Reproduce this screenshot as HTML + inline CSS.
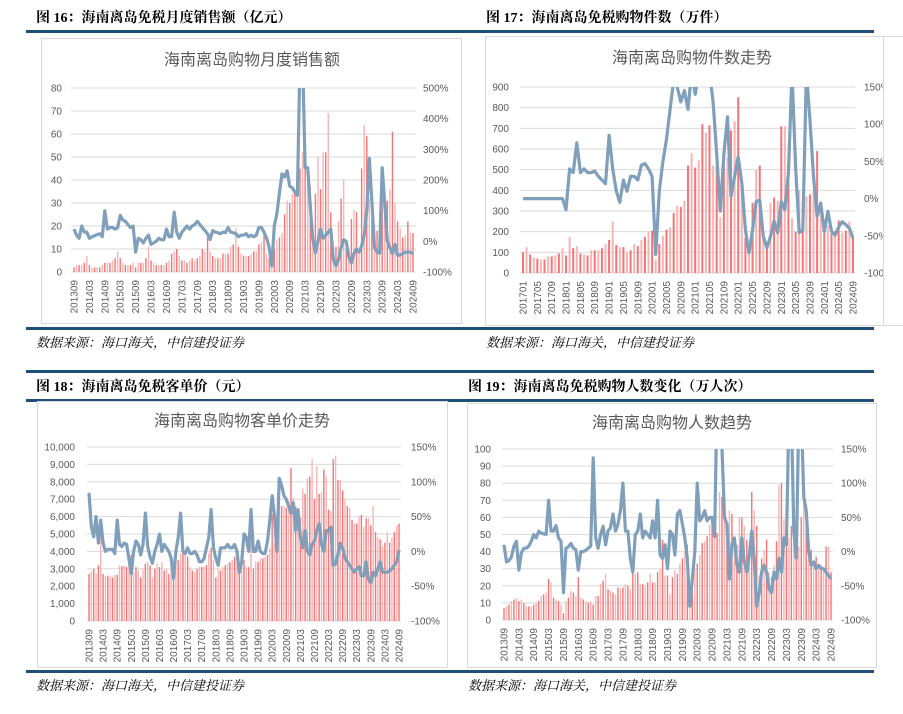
<!DOCTYPE html>
<html><head><meta charset="utf-8">
<style>
html,body{margin:0;padding:0;background:#fff;}
svg{display:block;font-family:"Liberation Sans","Noto Sans CJK SC",sans-serif;}
.ft{font-family:"Liberation Serif","Noto Serif CJK SC",serif;font-weight:bold;font-size:14px;fill:#000;}
.src{font-family:"Liberation Serif","Noto Serif CJK SC",serif;font-style:italic;font-size:13px;fill:#000;}
.ct{font-size:16px;fill:#595959;}
.tk{font-size:10px;fill:#595959;}
</style></head><body>
<svg id="root" width="903" height="714" viewBox="0 0 903 714">
<rect x="0" y="0" width="903" height="714" fill="#fff"/>
<rect x="26" y="30" width="848" height="3" fill="#1f4e79"/>
<rect x="26" y="327" width="848" height="3" fill="#1f4e79"/>
<rect x="26" y="370" width="848" height="3" fill="#1f4e79"/>
<rect x="26" y="399" width="848" height="3" fill="#1f4e79"/>
<rect x="26" y="670" width="848" height="3" fill="#1f4e79"/>
<text class="ft" x="36" y="22">图 16：海南离岛免税月度销售额（亿元）</text>
<text class="ft" x="486" y="22">图 17：海南离岛免税购物件数（万件）</text>
<text class="ft" x="36" y="391">图 18：海南离岛免税客单价（元）</text>
<text class="ft" x="468" y="391">图 19：海南离岛免税购物人数变化（万人次）</text>
<text class="src" x="36" y="347">数据来源：海口海关，中信建投证券</text>
<text class="src" x="486" y="347">数据来源：海口海关，中信建投证券</text>
<text class="src" x="36" y="690">数据来源：海口海关，中信建投证券</text>
<text class="src" x="468" y="690">数据来源：海口海关，中信建投证券</text>
<defs>
<clipPath id="cp16"><rect x="60" y="88" width="370" height="184"/></clipPath>
<clipPath id="cp17"><rect x="510" y="87" width="360" height="186"/></clipPath>
<clipPath id="cp17b"><rect x="485" y="36" width="398" height="289"/></clipPath>
<clipPath id="cp18"><rect x="78" y="447" width="330" height="174"/></clipPath>
<clipPath id="cp19"><rect x="494" y="449" width="345" height="171"/></clipPath>
</defs>
</svg>
<script>
// ---- Chart 16: monthly sales (亿元), 201309..202409
const sales16 = [2,3,3,3,4,7,3,2,2,2,2,3, 4,4,4,5,6,9,6,4,3,3,3,4, 2,4,4,4,6,11,5,4,3,3,3,3, 4,5,8,9,10,7,5,5,4,5,6,5, 6,7,10,9,15,9,7,6,6,6,8,8, 8,11,12,19,11,8,7,7,7,8,9,9, 12,13,16,8,6,2,10,14,15,17,25,31, 30,34,35,43,45,52,50,45,37,17,34,50, 36,52,52,69,26,10,11,22,32,40,10,10, 23,27,26,10,45,64,59,32,23,20,18,26, 33,24,31,36,61,30,22,19,15,16,22,17, 17];
const yoy16 = [40,20,10,50,30,30,10,15,18,22,25,15, 100,40,45,45,40,45,85,70,65,55,45,50, -35,10,5,-5,10,20,-10,-5,0,10,5,5, 40,15,15,95,30,10,30,40,50,40,50,55, 65,55,45,35,25,6,35,30,28,25,30,28, 45,30,28,25,15,20,20,25,15,20,15,20, 45,45,30,10,-20,-80,50,90,160,220,210,230, 180,175,160,150,600,600,240,240,115,6,-37,0, 40,10,20,30,40,-60,-80,-60,-20,5,0,-50, -70,-40,-25,-35,-15,20,100,270,130,-20,-35,-38, 240,120,0,-20,-40,-10,-45,-45,-40,-35,-35,-35, -40];
const leftTicks16 = [0,10,20,30,40,50,60,70,80];
const rightTicks16 = [-100,0,100,200,300,400,500];
// ---- Chart 17: items (万件), 201701..202409
const items17 = [100,125,90,75,70,65,65,80,80,85,95,120, 85,175,120,130,95,90,85,110,110,110,120,140, 160,250,135,125,125,100,110,140,130,160,175,200, 205,65,140,180,210,220,290,325,320,350,520,580, 510,545,720,680,715,520,520,270,540,560,690,735, 850,440,170,90,340,500,520,180,150,340,365,350, 710,710,475,265,200,400,345,370,380,395,590,340, 240,230,190,205,255,195,205,250,175];
const yoy17 = [0,0,0,0,0,0,0,0,0,0,0,0, -15,40,35,75,35,40,35,35,37,30,25,20, 85,40,10,-5,25,10,30,30,25,45,47,40, 30,-75,10,50,80,120,160,150,130,145,120,170, 140,170,170,170,170,130,60,-17,60,110,3,30, 56,21,-42,-73,-42,-4,-2,-51,-66,-51,-30,-46, -4,-15,34,170,43,-46,-42,170,105,30,-24,-6, -44,-17,-44,-49,-38,-31,-35,-40,-53];
const leftTicks17 = [0,100,200,300,400,500,600,700,800,900];
const rightTicks17 = [-100,-50,0,50,100,150];
// ---- Chart 18: ticket price (元), 201309..202409
const price18 = [2700,2850,3000,2750,3200,4800,2700,2600,2600,2550,2500,2650, 2650,3200,3150,3200,3100,3300,3800,2800,3100,2900,2500,3000, 3300,3400,3200,2500,3000,3300,3100,3400,2900,3000,2700,3100, 3100,3800,3500,3900,3900,3800,3700,3100,2900,2800,3000,3100, 3100,3100,3200,3900,4200,3500,2500,3000,2900,3100,3200,3300, 3400,3500,3700,3800,3400,3300,3500,3100,3100,4600,3000,3400, 3400,3600,3600,3700,3800,4200,6100,4500,5000,7000,6600,6600, 6500,6900,8800,7100,6600,6000,5900,7600,7300,8200,8300,9300, 7000,8900,7300,7400,8700,8300,6400,6300,9300,9500,8100,8100, 7500,7000,6600,6500,5800,5600,5600,6000,6100,5400,5900,5900, 5500,6600,5100,4800,4700,4300,4500,5100,4500,4800,5100,5500, 5600];
const yoy18 = [84,36,21,50,12,45,12,0,3,3,3,-3, 45,10,7,12,10,-10,-32,0,15,10,-5,10, 55,7,-8,-17,0,10,25,0,10,5,0,-10, -39,0,20,55,0,-3,5,-3,-3,0,-5,-15, -15,-10,5,20,60,5,-10,-20,5,5,5,10, 5,5,10,0,-30,-15,25,20,0,60,0,0, 15,0,-3,-3,15,45,80,50,0,105,95,80, 75,65,55,70,30,60,20,5,30,0,-5,10, 15,30,40,10,0,30,30,35,-20,-18,-5,12, 5,-10,-15,-20,-25,-30,-25,-22,-35,-35,-15,-40, -45,-30,-35,-25,-15,-30,-30,-30,-28,-25,-20,-15, 2];
const leftTicks18 = [0,1000,2000,3000,4000,5000,6000,7000,8000,9000,10000];
const rightTicks18 = [-100,-50,0,50,100,150];
// ---- Chart 19: shoppers (万人次), 201309..202409
const people19 = [7,8,9,11,12,13,11,12,10,8,8,8, 9,10,11,14,15,16,24,22,13,12,11,9, 4,11,13,17,16,14,25,13,12,11,10,11, 9,14,14,21,23,27,18,17,16,15,19,18, 19,21,20,18,35,27,28,21,21,20,22,27, 22,22,28,30,47,26,26,15,25,29,27,33, 36,40,44,16,23,30,33,38,45,46,49,56, 60,55,51,75,72,75,56,64,62,47,44,60, 60,55,47,38,75,64,55,26,36,41,47,28, 25,32,46,79,80,59,50,48,55,54,50,43, 60,92,60,45,41,35,37,33,32,30,43,43, 28];
const yoy19 = [10,-15,-13,-8,8,15,-27,-2,5,5,8,15, 25,20,30,27,26,25,75,30,30,38,20,15, -60,5,7,12,5,3,-27,0,0,2,5,8, 137,20,5,25,37,10,30,35,55,30,40,60, 100,30,30,-10,-30,25,30,55,20,30,25,20, 45,20,75,-5,-10,10,-25,30,25,-5,55,60, 40,20,-10,-80,-40,0,100,45,50,60,45,50, 50,22,220,200,150,50,40,-40,10,20,-20,-30, 20,-15,-30,-5,30,-10,-80,-60,-30,-20,-30,-55, -60,-30,-40,-10,-30,20,10,200,200,30,-10,200, 200,80,60,0,-20,-15,-25,-20,-25,-25,-30,-35, -40];
const leftTicks19 = [0,10,20,30,40,50,60,70,80,90,100];
const rightTicks19 = [-100,-50,0,50,100,150];

const NS = "http://www.w3.org/2000/svg";
const root = document.getElementById("root");
function mk(tag, attrs, parent){
  const e = document.createElementNS(NS, tag);
  for (const k in attrs) e.setAttribute(k, attrs[k]);
  (parent||root).appendChild(e);
  return e;
}
function monthLabel(startY, startM, i){
  let m = startM - 1 + i; const y = startY + Math.floor(m/12); m = m%12 + 1;
  return "" + y + (m<10?"0":"") + m;
}
function fmt(v){ return v>=1000 ? v.toLocaleString("en-US") : String(v); }

function drawChart(c){
  const g = mk("g", {});
  
  
  const box = mk("rect", {x:c.box[0]+0.5, y:c.box[1]+0.5, width:c.box[2], height:c.box[3], fill:"#fff", stroke:"#d9d9d9"}, g);
  
  
  const t = mk("text", {x:c.titleX, y:c.titleY, class:"ct", "text-anchor":"middle"}, g);
  
  
  t.textContent = c.title;
  const n = c.bars.length;
  const xs = i => c.x0 + i*(c.x1-c.x0)/(n-1);
  const yl = v => c.yBot - (v - c.lmin)/(c.lmax - c.lmin)*(c.yBot - c.yTop);
  const yr = v => c.yBot - (v - c.rmin)/(c.rmax - c.rmin)*(c.yBot - c.yTop);
  // gridlines + left ticks
  c.lticks.forEach(v => {
    const gl = mk("line", {x1:c.gx0, x2:c.gx1, y1:yl(v), y2:yl(v), stroke:"#d9d9d9", "stroke-width":1}, g);
    
    
    const tx = mk("text", {x:c.lx, y:yl(v)+3.5, class:"tk", "text-anchor":"end"}, g);
    
    
    tx.textContent = fmt(v);
  });
  const rg = mk("g", c.rclip ? {"clip-path":"url(#"+c.rclip+")"} : {}, g);
  c.rticks.forEach(v => {
    const tx = mk("text", {x:c.rx, y:yr(v)+3.5, class:"tk"}, rg);
    
    
    tx.textContent = v + "%";
  });
  // bars
  const bw = c.bw;
  c.bars.forEach((v,i) => {
    const b = mk("rect", {x:xs(i)-bw/2, y:yl(v), width:bw, height:Math.max(0,c.yBot-yl(v)), fill: i%2 ? "#f9b4b4" : "#f27577"}, g);
    
    
  });
  // line
  const lg = mk("g", {"clip-path":"url(#"+c.clip+")"}, g);
  const pts = c.line.map((v,i) => xs(i).toFixed(1)+","+yr(v).toFixed(1)).join(" ");
  const pl = mk("polyline", {points:pts, fill:"none", stroke:"#7f9fbb", "stroke-width":3.2, "stroke-linejoin":"round"}, lg);
  
  
  // x labels
  for (let i=0;i<n;i+=c.step){
    const x = xs(i)+3.5, y = c.yBot+8;
    const tx = mk("text", {x:x, y:y, class:"tk", "text-anchor":"end", transform:"rotate(-90 "+x+" "+y+")"}, g);
    
    
    tx.textContent = monthLabel(c.sy, c.sm, i);
  }
}

drawChart({name:"chart-16-sales", box:[41,38,420,285], title:"海南离岛购物月度销售额", titleX:252, titleY:65,
  bars:sales16, line:yoy16, lticks:leftTicks16, rticks:rightTicks16, lmin:0,lmax:80, rmin:-100,rmax:500,
  x0:74,x1:413, gx0:71,gx1:416, yTop:88,yBot:272, lx:62, rx:423, bw:1.4, step:6, sy:2013, sm:9, clip:"cp16"});
drawChart({name:"chart-17-items", box:[485,36,420,289], title:"海南离岛购物件数走势", titleX:692, titleY:63,
  bars:items17, line:yoy17, lticks:leftTicks17, rticks:rightTicks17, lmin:0,lmax:900, rmin:-100,rmax:150,
  x0:523,x1:853, gx0:520,gx1:855, yTop:87,yBot:273, lx:509, rx:864, bw:2, step:4, sy:2017, sm:1, clip:"cp17", rclip:"cp17b"});
drawChart({name:"chart-18-price", box:[37,401,410,266], title:"海南离岛购物客单价走势", titleX:242, titleY:426,
  bars:price18, line:yoy18, lticks:leftTicks18, rticks:rightTicks18, lmin:0,lmax:10000, rmin:-100,rmax:150,
  x0:89,x1:399, gx0:87,gx1:401, yTop:447,yBot:621, lx:75, rx:411, bw:1.4, step:6, sy:2013, sm:9, clip:"cp18"});
drawChart({name:"chart-19-shoppers", box:[467,403,409,264], title:"海南离岛购物人数趋势", titleX:672, titleY:428,
  bars:people19, line:yoy19, lticks:leftTicks19, rticks:rightTicks19, lmin:0,lmax:100, rmin:-100,rmax:150,
  x0:504,x1:831, gx0:502,gx1:833, yTop:449,yBot:620, lx:491, rx:841, bw:1.4, step:6, sy:2013, sm:9, clip:"cp19"});
// keep right frame edge of chart 17 visible over clipped ticks
const edge = mk("line", {x1:883.5, x2:883.5, y1:36, y2:325, stroke:"#d9d9d9"});


</script>
</body></html>
